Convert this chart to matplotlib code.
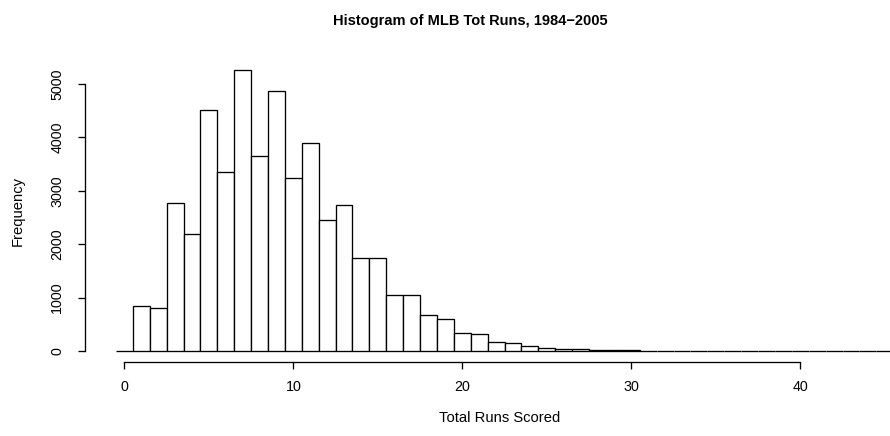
import matplotlib
matplotlib.use("Agg")
import matplotlib.pyplot as plt
import numpy as np

plt.rcParams['font.family'] = ['Liberation Sans', 'DejaVu Sans']

# total runs per game (bins centred on integers) and how many games had it
total_runs = list(range(0, 46))
game_counts = [0, 850, 810, 2765, 2185, 4520, 3345, 5255, 3645, 4870,
               3245, 3905, 2460, 2740, 1740, 1750, 1055, 1045, 670, 607,
               345, 325, 170, 145, 88, 60, 32, 30, 18, 12,
               10, 8, 5, 4, 1, 3, 2, 1, 0, 1,
               0, 0, 1, 0, 0, 1]

x_ticks = [0, 10, 20, 30, 40]
y_ticks = [0, 1000, 2000, 3000, 4000, 5000]

fig = plt.figure(figsize=(8.9, 4.36), dpi=100)
ax = fig.add_axes([85 / 890, (436 - 362.2) / 436, 805 / 890, 303.2 / 436])

ax.bar(total_runs, game_counts, width=1.0, align='center',
       facecolor='white', edgecolor='black', linewidth=0.95)

ax.set_xlim(-2.33, 45.31)
ax.set_ylim(-210, 5470)

for side in ['top', 'right']:
    ax.spines[side].set_visible(False)
ax.spines['left'].set_bounds(0, 5000)
ax.spines['bottom'].set_bounds(0, 40)
ax.spines['left'].set_linewidth(0.95)
ax.spines['bottom'].set_linewidth(0.95)

ax.set_xticks(x_ticks)
ax.set_yticks(y_ticks)
ax.tick_params(axis='both', direction='out', length=5, width=0.95, labelsize=10.3)
ax.tick_params(axis='x', pad=8)
ax.tick_params(axis='y', pad=10)
for lab in ax.get_yticklabels():
    lab.set_rotation(90)
    lab.set_va('center')

fig.text(470 / 890, 1 - 21 / 436, "Histogram of MLB Tot Runs, 1984\u22122005",
         ha='center', va='center', fontsize=10.5, fontweight='bold')
fig.text(500 / 890, 1 - 418 / 436, "Total Runs Scored",
         ha='center', va='center', fontsize=10.6)
fig.text(18 / 890, 1 - 211 / 436, "Frequency", rotation=90,
         ha='center', va='center', fontsize=10.6)

fig.savefig("out.png", dpi=100)
